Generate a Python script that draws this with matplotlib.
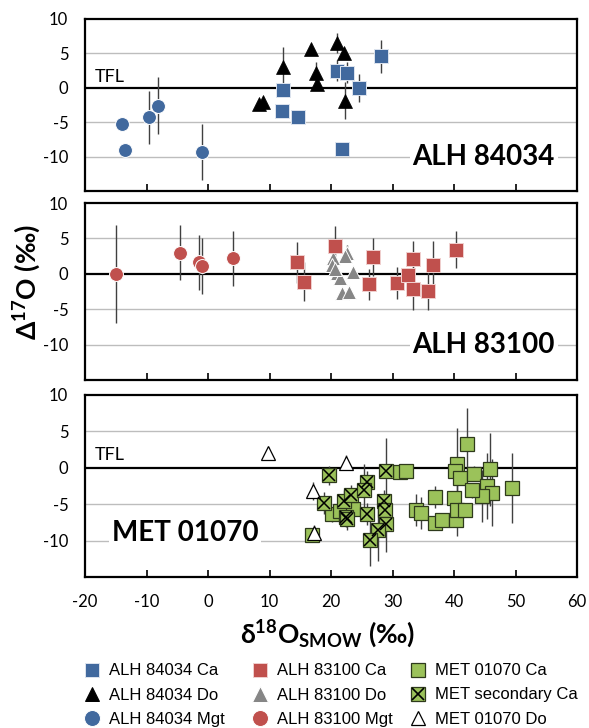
import matplotlib
matplotlib.use("Agg")
import matplotlib.pyplot as plt
from matplotlib.lines import Line2D

plt.rcParams['font.family'] = ['Lato', 'DejaVu Sans']
plt.rcParams['axes.unicode_minus'] = False
plt.rcParams['mathtext.fontset'] = 'custom'
plt.rcParams['mathtext.rm'] = 'Lato'
plt.rcParams['mathtext.bf'] = 'Lato:bold'
plt.rcParams['mathtext.it'] = 'Lato:italic'
plt.rcParams['mathtext.fallback'] = 'stixsans'

# ---------------- data: d18O (x), D17O (y), 1-sigma error on D17O ----------------
# ALH 84034
alh84_ca_x = [12.2, 12.0, 14.7, 21.0, 22.6, 24.6, 28.1, 21.8]
alh84_ca_y = [-0.3, -3.3, -4.2, 2.5, 2.2, 0.0, 4.6, -8.9]
alh84_ca_e = [0.5, 0.6, 0.5, 1.5, 1.5, 2.0, 2.4, 0.5]

alh84_do_x = [8.3, 8.9, 12.2, 16.7, 17.6, 17.8, 20.9, 22.1, 22.3]
alh84_do_y = [-2.3, -2.0, 3.0, 5.6, 2.2, 0.6, 6.5, 5.1, -1.9]
alh84_do_e = [0.3, 0.3, 3.0, 0.4, 1.5, 0.5, 1.4, 0.5, 2.7]

alh84_mgt_x = [-14.0, -13.5, -9.6, -8.2, -1.0]
alh84_mgt_y = [-5.3, -9.0, -4.3, -2.6, -9.3]
alh84_mgt_e = [0.3, 0.3, 3.8, 4.1, 4.1]

# ALH 83100
alh83_ca_x = [14.4, 15.6, 20.6, 26.8, 26.2, 30.8, 32.6, 33.4, 33.4, 35.8, 36.6, 40.3]
alh83_ca_y = [1.6, -1.1, 3.9, 2.4, -1.5, -1.3, -0.1, 2.1, -2.1, -2.4, 1.3, 3.4]
alh83_ca_e = [2.9, 2.8, 2.8, 2.7, 2.2, 2.2, 0.8, 2.6, 3.0, 2.7, 3.3, 2.6]

alh83_do_x = [22.6, 22.2, 20.4, 20.1, 20.9, 23.5, 21.5, 21.8, 22.9, 20.6]
alh83_do_y = [2.9, 2.5, 2.2, 1.3, 0.1, 0.3, -0.6, -2.7, -2.6, 0.7]
alh83_do_e = [1.2, 0.5, 0.5, 0.5, 0.5, 0.5, 0.5, 0.4, 0.4, 0.5]

alh83_mgt_x = [-15.0, -4.6, -1.4, -0.9, 4.0]
alh83_mgt_y = [0.0, 3.0, 1.6, 1.1, 2.2]
alh83_mgt_e = [6.9, 3.9, 3.9, 3.9, 3.9]

# MET 01070
met_ca_x = [31.3, 32.2, 42.1, 40.5, 40.2, 40.9, 43.3, 45.9, 45.4, 46.1, 44.5, 42.9,
            49.5, 36.9, 40.0, 33.9, 34.6, 36.9, 38.0, 40.4, 40.5, 41.8, 16.9, 20.1,
            21.5, 23.6]
met_ca_y = [-0.6, -0.5, 3.3, 0.5, -0.4, -1.4, -0.8, -0.2, -2.5, -3.4, -3.9, -3.1,
            -2.8, -4.0, -4.2, -5.8, -6.2, -7.6, -7.2, -7.2, -5.8, -5.8, -9.2, -6.4,
            -6.0, -5.6]
met_ca_e = [0.5, 0.5, 4.9, 4.9, 1.0, 1.0, 1.0, 5.0, 4.6, 4.6, 3.6, 1.0,
            4.8, 1.5, 1.0, 2.2, 2.2, 1.0, 1.0, 1.0, 3.6, 1.0, 0.8, 1.0,
            1.0, 1.0]

met_sec_x = [19.7, 28.9, 18.9, 22.1, 23.2, 25.8, 25.4, 22.4, 22.6, 25.8, 28.6, 28.8,
             29.0, 27.7, 26.3]
met_sec_y = [-1.0, -0.4, -4.8, -4.6, -3.8, -2.0, -3.0, -6.7, -7.1, -6.4, -4.6, -5.8,
             -7.7, -8.5, -9.9]
met_sec_e = [1.3, 4.5, 1.5, 1.5, 1.5, 1.5, 3.5, 1.5, 1.5, 1.5, 1.5, 1.5,
             3.8, 4.3, 3.6]

met_do_x = [9.7, 22.5, 17.1, 17.2]
met_do_y = [2.1, 0.7, -3.2, -8.9]
met_do_e = [0.8, 1.0, 1.2, 1.0]

yticks = [-10, -5, 0, 5, 10]
xticks = [-20, -10, 0, 10, 20, 30, 40, 50, 60]

BLUE = '#41699E'
RED = '#C0504D'
GREEN = '#9BC25A'
GRAY = '#868686'
ERR = '#404040'

W, H = 589, 728
fig = plt.figure(figsize=(W / 100, H / 100), dpi=100)


def px_axes(l, t, r, b):
    return fig.add_axes([l / W, 1 - b / H, (r - l) / W, (b - t) / H])


ax1 = px_axes(85, 19, 577, 191)
ax2 = px_axes(85, 203, 577, 380)
ax3 = px_axes(85, 395, 577, 577)


def style(ax, show_x):
    ax.set_xlim(-20, 60)
    ax.set_ylim(-15, 10)
    ax.set_yticks(yticks)
    ax.set_xticks(xticks)
    for g in (5, -5, -10):
        ax.axhline(g, color='#bdbdbd', lw=1.0, zorder=0)
    ax.axhline(0, color='black', lw=1.6, zorder=1)
    ax.tick_params(axis='y', length=0, pad=12, labelsize=12)
    ax.tick_params(axis='x', direction='in', length=5, width=1.2, pad=12,
                   labelsize=12, labelbottom=show_x)
    for s in ax.spines.values():
        s.set_linewidth(1.6)


def series(ax, x, y, e, marker, ms, fc, ec, ew=0.7):
    ax.errorbar(x, y, yerr=e, fmt='none', ecolor=ERR, elinewidth=1.0, zorder=2)
    ax.plot(x, y, ls='none', marker=marker, ms=ms, mfc=fc, mec=ec, mew=ew, zorder=3)


for ax, show in ((ax1, False), (ax2, False), (ax3, True)):
    style(ax, show)

# ALH 84034
series(ax1, alh84_mgt_x, alh84_mgt_y, alh84_mgt_e, 'o', 10, BLUE, 'white')
series(ax1, alh84_do_x, alh84_do_y, alh84_do_e, '^', 9.5, 'black', 'black', 0.5)
series(ax1, alh84_ca_x, alh84_ca_y, alh84_ca_e, 's', 9.5, BLUE, '#dde4ee')
ax1.text(-18.4, 0.4, 'TFL', fontsize=13, ha='left', va='bottom')
ax1.text(56.4, -10.0, 'ALH 84034', fontsize=20, fontweight='bold', ha='right',
         va='center', bbox=dict(facecolor='white', edgecolor='none', pad=2), zorder=4)

# ALH 83100
series(ax2, alh83_mgt_x, alh83_mgt_y, alh83_mgt_e, 'o', 10, RED, 'white')
series(ax2, alh83_do_x, alh83_do_y, alh83_do_e, '^', 10, GRAY, 'white')
series(ax2, alh83_ca_x, alh83_ca_y, alh83_ca_e, 's', 9.5, RED, '#f0d0cf')
ax2.text(56.4, -10.0, 'ALH 83100', fontsize=20, fontweight='bold', ha='right',
         va='center', bbox=dict(facecolor='white', edgecolor='none', pad=2), zorder=4)

# MET 01070
series(ax3, met_ca_x, met_ca_y, met_ca_e, 's', 10, GREEN, '#2e3a1c', 0.9)
series(ax3, met_sec_x, met_sec_y, met_sec_e, 's', 10, GREEN, '#2e3a1c', 0.9)
ax3.plot(met_sec_x, met_sec_y, ls='none', marker='x', ms=8.5, mec='black', mew=1.1, zorder=4)
series(ax3, met_do_x, met_do_y, met_do_e, '^', 10, 'white', 'black', 0.9)
ax3.text(-18.4, 0.6, 'TFL', fontsize=13, ha='left', va='bottom')
ax3.text(-15.6, -9.0, 'MET 01070', fontsize=20, fontweight='bold', ha='left',
         va='center', bbox=dict(facecolor='white', edgecolor='none', pad=2), zorder=4)

# axis titles
fig.text(27 / W, 1 - 282 / H, r'$\mathbf{\Delta^{17}O\ (‰)}$', rotation=90,
         fontsize=19, ha='center', va='center')
fig.text(328 / W, 1 - 634 / H, r'$\mathbf{\delta^{18}O_{SMOW}\ (‰)}$',
         fontsize=19, ha='center', va='center')

# legend in three columns
lp = dict(family=['Liberation Sans', 'DejaVu Sans'], size=12)
def h(marker, fc, ec, ms=10.5, ew=0.7):
    return Line2D([], [], ls='none', marker=marker, ms=ms, mfc=fc, mec=ec, mew=ew)

cols = [
    (84, [h('s', BLUE, '#dde4ee'), h('^', 'black', 'black'), h('o', BLUE, 'white', 11.5)],
     ['ALH 84034 Ca', 'ALH 84034 Do', 'ALH 84034 Mgt']),
    (252, [h('s', RED, '#f0d0cf'), h('^', GRAY, 'white', 11.5), h('o', RED, 'white', 11.5)],
     ['ALH 83100 Ca', 'ALH 83100 Do', 'ALH 83100 Mgt']),
    (410, [h('s', GREEN, '#2e3a1c', 10.5, 0.9),
           (h('s', GREEN, '#2e3a1c', 10.5, 0.9), h('x', 'black', 'black', 8.5, 1.2)),
           h('^', 'white', 'black', 10.5, 0.9)],
     ['MET 01070 Ca', 'MET secondary Ca', 'MET 01070 Do']),
]
for xl, handles, labels in cols:
    fig.legend(handles, labels, loc='center left', bbox_to_anchor=(xl / W, 1 - 695 / H),
               frameon=False, prop=lp, handlelength=1.0, handletextpad=0.5,
               labelspacing=0.55, borderpad=0, borderaxespad=0)

fig.savefig('out.png', dpi=100)
